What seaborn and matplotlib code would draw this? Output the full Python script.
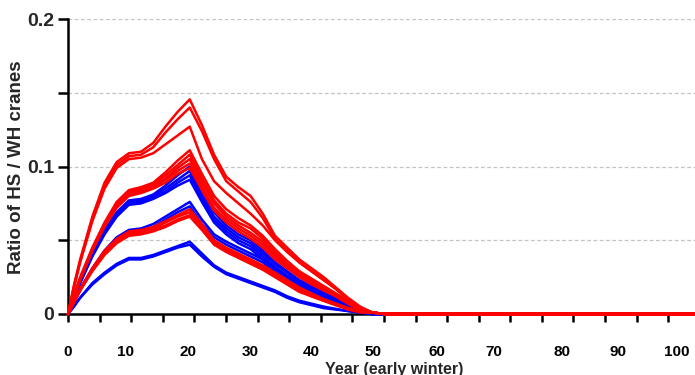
import matplotlib
matplotlib.use("Agg")
import matplotlib.pyplot as plt
import numpy as np
import pandas as pd
import seaborn as sns

# ---------------- data ----------------
years = [0, 1, 2, 4, 6, 8, 10, 12, 14, 16, 18, 20, 22, 24, 26, 28, 30, 32, 34,
         36, 38, 40, 42, 44, 46, 48, 50, 52, 103]

red_1 = [0, 0.020, 0.037, 0.066, 0.089, 0.103, 0.109, 0.110, 0.116, 0.127, 0.137, 0.1455, 0.128, 0.108, 0.093, 0.086, 0.080, 0.068, 0.053, 0.045, 0.037, 0.031, 0.025, 0.018, 0.011, 0.005, 0.001, 0, 0]
red_2 = [0, 0.019, 0.036, 0.064, 0.087, 0.101, 0.107, 0.108, 0.113, 0.123, 0.132, 0.140, 0.124, 0.105, 0.090, 0.083, 0.076, 0.065, 0.051, 0.043, 0.035, 0.029, 0.023, 0.017, 0.010, 0.004, 0.001, 0, 0]
red_3 = [0, 0.018, 0.035, 0.063, 0.085, 0.099, 0.105, 0.106, 0.109, 0.115, 0.121, 0.127, 0.105, 0.090, 0.082, 0.075, 0.068, 0.060, 0.050, 0.042, 0.035, 0.029, 0.023, 0.017, 0.010, 0.004, 0.001, 0, 0]
red_4 = [0, 0.013, 0.025, 0.045, 0.062, 0.076, 0.084, 0.086, 0.089, 0.096, 0.104, 0.111, 0.095, 0.080, 0.071, 0.065, 0.060, 0.053, 0.044, 0.036, 0.029, 0.024, 0.019, 0.014, 0.009, 0.004, 0.001, 0, 0]
red_5 = [0, 0.013, 0.024, 0.044, 0.061, 0.075, 0.083, 0.085, 0.088, 0.094, 0.101, 0.108, 0.092, 0.077, 0.068, 0.062, 0.058, 0.051, 0.042, 0.034, 0.028, 0.023, 0.018, 0.013, 0.008, 0.004, 0.001, 0, 0]
red_6 = [0, 0.012, 0.024, 0.044, 0.060, 0.074, 0.082, 0.084, 0.087, 0.092, 0.099, 0.105, 0.089, 0.075, 0.066, 0.060, 0.055, 0.049, 0.040, 0.033, 0.027, 0.022, 0.017, 0.013, 0.008, 0.003, 0.001, 0, 0]
red_7 = [0, 0.012, 0.024, 0.043, 0.060, 0.073, 0.081, 0.083, 0.086, 0.091, 0.097, 0.102, 0.086, 0.072, 0.064, 0.058, 0.053, 0.047, 0.039, 0.032, 0.026, 0.021, 0.016, 0.012, 0.007, 0.003, 0.001, 0, 0]
red_8 = [0, 0.012, 0.023, 0.043, 0.059, 0.072, 0.080, 0.082, 0.085, 0.089, 0.095, 0.099, 0.084, 0.070, 0.062, 0.056, 0.051, 0.045, 0.037, 0.031, 0.025, 0.020, 0.016, 0.012, 0.007, 0.003, 0.001, 0, 0]
red_9 = [0, 0.009, 0.017, 0.031, 0.043, 0.051, 0.056, 0.057, 0.059, 0.063, 0.067, 0.071, 0.061, 0.050, 0.045, 0.041, 0.037, 0.033, 0.028, 0.023, 0.018, 0.014, 0.010, 0.007, 0.004, 0.002, 0.001, 0, 0]
red_10 = [0, 0.008, 0.017, 0.030, 0.042, 0.050, 0.055, 0.056, 0.058, 0.062, 0.066, 0.069, 0.060, 0.049, 0.044, 0.040, 0.036, 0.032, 0.027, 0.022, 0.017, 0.013, 0.010, 0.007, 0.004, 0.002, 0.001, 0, 0]
red_11 = [0, 0.008, 0.016, 0.030, 0.041, 0.049, 0.054, 0.055, 0.057, 0.060, 0.064, 0.067, 0.058, 0.048, 0.043, 0.039, 0.035, 0.031, 0.026, 0.021, 0.016, 0.012, 0.009, 0.006, 0.004, 0.002, 0.001, 0, 0]
red_12 = [0, 0.008, 0.016, 0.029, 0.040, 0.048, 0.053, 0.054, 0.056, 0.059, 0.063, 0.066, 0.057, 0.047, 0.042, 0.038, 0.034, 0.030, 0.025, 0.020, 0.015, 0.012, 0.009, 0.006, 0.003, 0.001, 0.001, 0, 0]

blue_1 = [0, 0.011, 0.022, 0.041, 0.057, 0.069, 0.077, 0.078, 0.081, 0.087, 0.094, 0.100, 0.083, 0.069, 0.060, 0.054, 0.050, 0.043, 0.035, 0.029, 0.023, 0.019, 0.015, 0.011, 0.006, 0.003, 0, 0, 0]
blue_2 = [0, 0.011, 0.022, 0.040, 0.056, 0.068, 0.076, 0.077, 0.080, 0.085, 0.091, 0.097, 0.080, 0.066, 0.058, 0.052, 0.048, 0.041, 0.034, 0.028, 0.022, 0.018, 0.014, 0.010, 0.006, 0.002, 0, 0, 0]
blue_3 = [0, 0.011, 0.021, 0.040, 0.055, 0.067, 0.075, 0.076, 0.079, 0.083, 0.089, 0.094, 0.078, 0.064, 0.056, 0.050, 0.046, 0.039, 0.032, 0.026, 0.021, 0.017, 0.013, 0.010, 0.006, 0.002, 0, 0, 0]
blue_4 = [0, 0.011, 0.021, 0.039, 0.054, 0.066, 0.074, 0.075, 0.078, 0.082, 0.087, 0.091, 0.076, 0.062, 0.054, 0.048, 0.044, 0.037, 0.031, 0.025, 0.020, 0.016, 0.012, 0.009, 0.005, 0.002, 0, 0, 0]
blue_5 = [0, 0.009, 0.017, 0.031, 0.043, 0.052, 0.057, 0.058, 0.061, 0.066, 0.071, 0.076, 0.064, 0.054, 0.049, 0.045, 0.041, 0.037, 0.031, 0.025, 0.020, 0.016, 0.012, 0.009, 0.005, 0.002, 0, 0, 0]
blue_6 = [0, 0.008, 0.016, 0.030, 0.041, 0.050, 0.055, 0.056, 0.059, 0.064, 0.069, 0.073, 0.061, 0.052, 0.047, 0.043, 0.039, 0.035, 0.029, 0.023, 0.019, 0.015, 0.011, 0.008, 0.005, 0.002, 0, 0, 0]
blue_7 = [0, 0.006, 0.011, 0.021, 0.028, 0.034, 0.038, 0.038, 0.040, 0.043, 0.046, 0.049, 0.041, 0.033, 0.028, 0.025, 0.022, 0.019, 0.016, 0.012, 0.009, 0.007, 0.005, 0.0035, 0.002, 0.001, 0, 0, 0]
blue_8 = [0, 0.005, 0.011, 0.020, 0.027, 0.033, 0.037, 0.037, 0.039, 0.042, 0.045, 0.047, 0.039, 0.032, 0.027, 0.024, 0.021, 0.018, 0.015, 0.011, 0.008, 0.006, 0.004, 0.003, 0.002, 0.001, 0, 0, 0]

red_series = [red_1, red_2, red_3, red_4, red_5, red_6, red_7, red_8, red_9, red_10, red_11, red_12]
blue_series = [blue_1, blue_2, blue_3, blue_4, blue_5, blue_6, blue_7, blue_8]

x_tick_labels = ["0", "10", "20", "30", "40", "50", "60", "70", "80", "90", "100"]
y_tick_values = [0, 0.1, 0.2]
y_tick_labels = ["0", "0.1", "0.2"]
y_label = "Ratio of HS / WH cranes"
x_label = "Year (early winter)"

# ---------------- build table ----------------
rows = []
order = []
palette = {}
for i, s in enumerate(blue_series):
    name = f"blue_{i+1}"
    order.append(name)
    palette[name] = "#0000FF"
    for x, v in zip(years, s):
        rows.append((name, x, v))
for i, s in enumerate(red_series):
    name = f"red_{i+1}"
    order.append(name)
    palette[name] = "#FF0000"
    for x, v in zip(years, s):
        rows.append((name, x, v))
df = pd.DataFrame(rows, columns=["curve", "year", "ratio"])

# ---------------- figure ----------------
sns.set_style("ticks")
plt.rcParams["font.family"] = ["Liberation Sans", "DejaVu Sans"]
plt.rcParams["font.weight"] = "bold"

fig = plt.figure(figsize=(6.95, 3.75), dpi=100)
ax = fig.add_axes([68 / 695, 61 / 375, 627 / 695, 295 / 375])

# dashed horizontal grid
for gy in [0.05, 0.1, 0.15, 0.2]:
    ax.axhline(gy, color="#c4c4c4", lw=0.9, ls=(0, (3, 2)), zorder=0.5)

sns.lineplot(data=df, x="year", y="ratio", hue="curve", hue_order=order,
             palette=palette, estimator=None, sort=False, legend=False,
             lw=1.8, ax=ax, zorder=3, clip_on=False)

ax.set_xlim(0, 103.0)
ax.set_ylim(0, 0.2)

# tick marks (unlabelled) and label positions as in the reference
ax.xaxis.remove_overlapping_locs = False
tick_marks = np.arange(20) * 5.19
label_pos = [0, 9.47, 19.7, 29.9, 40.0, 50.1, 60.6, 70.0, 81.1, 90.3, 100.0]
ax.set_xticks(tick_marks)
ax.set_xticklabels([""] * len(tick_marks))
ax.set_xticks(label_pos, minor=True)
ax.set_xticklabels(x_tick_labels, minor=True)
ax.tick_params(axis="x", which="major", length=6, width=1.8, color="black",
               direction="out")
ax.tick_params(axis="x", which="minor", length=0, pad=22, labelsize=11,
               labelcolor="black")

ax.set_yticks(y_tick_values)
ax.set_yticklabels(y_tick_labels)
ax.set_yticks([0.05, 0.15], minor=True)
ax.tick_params(axis="y", which="both", length=7, width=1.8, color="black",
               direction="out", labelsize=14, pad=3)

for lab in ax.get_xticklabels(minor=True) + ax.get_yticklabels():
    lab.set_fontweight("bold")

ax.set_xlabel("")
ax.set_ylabel("")

for side in ["top", "right"]:
    ax.spines[side].set_visible(False)
for side in ["left", "bottom"]:
    ax.spines[side].set_linewidth(1.8)
    ax.spines[side].set_color("black")

fig.text(17 / 695, 1 - 167.5 / 375, y_label, rotation=90, ha="center",
         va="center", fontsize=13.5, fontweight="bold")
fig.text(394 / 695, 1 / 375, x_label, ha="center", va="baseline",
         fontsize=11.5, fontweight="bold")

fig.savefig("out.png", dpi=100)
